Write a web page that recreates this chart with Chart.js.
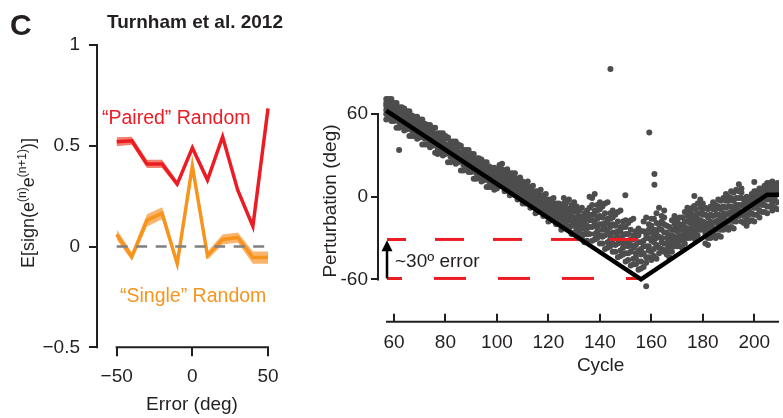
<!DOCTYPE html>
<html><head><meta charset="utf-8">
<script src="https://cdn.jsdelivr.net/npm/chart.js@4.4.1/dist/chart.umd.min.js"></script>
<style>
html,body{margin:0;padding:0;background:#fff;}
#wrap{position:relative;width:783px;height:418px;overflow:hidden;background:#fff;}
#c1{position:absolute;left:0;top:0;}
#c2{position:absolute;left:300px;top:0;}
</style></head><body>
<div id="wrap"><canvas id="c1" width="300" height="418"></canvas><canvas id="c2" width="483" height="418"></canvas></div>
<script>
// ---------- Left panel data ----------
const errorBins  = [-50, -40, -30, -20, -10, 0, 10, 20, 30, 40, 50];
const pairedMean = [0.52, 0.525, 0.41, 0.41, 0.31, 0.49, 0.33, 0.545, 0.28, 0.10, 0.685];
const pairedSem  = [0.022, 0.02, 0.02, 0.02, 0.015, 0.015, 0.015, 0.015, 0.015, 0.015, 0.015];
const singleMean = [0.06, -0.05, 0.13, 0.165, -0.085, 0.40, -0.045, 0.035, 0.045, -0.055, -0.055];
const singleSem  = [0.025, 0.02, 0.03, 0.03, 0.02, 0.02, 0.02, 0.025, 0.025, 0.03, 0.03];
const leftXTicks  = [-50, 0, 50];
const leftXLabels = ['\u221250', '0', '50'];
const leftYTicks  = [1, 0.5, 0, -0.5];
const leftYLabels = ['1', '0.5', '0', '\u22120.5'];

// ---------- Right panel data ----------
const schedCycles = [57, 156, 205, 209.6];
const schedValues = [62.5, -60, 1.5, 1.5];
const errBandCycles = [57.3, 155.7];
const errBandLevels = [-31, -59.3];
const rightXTicks = [60, 80, 100, 120, 140, 160, 180, 200];
const rightYTicks = [-60, 0, 60];
const rightYLabels = ['-60', '0', '60'];
// each row: [cycle, value, value, ...]
const scatterRows = [
[57,71,66,60,68,63,56],[58,63,71,66,57,68,61],[59,66,59,71,63,55,68],[60,62,66,58,55,68,60],[61,68,58,63,50,60,62],
[62,65,60,54,62,57,50,34],[63,57,65,60,51,62,55],[64,59,52,64,56,48,61],[65,56,60,52,49,62,54],[66,62,52,57,44,54,56],
[67,59,54,48,56,51,44],[68,50,58,53,44,55,48],[69,53,46,58,50,42,55],[70,50,54,46,43,56,48],[71,56,46,51,38,48,50],
[72,53,48,42,50,45,38],[73,44,52,47,38,49,42],[74,47,40,52,44,36,49],[75,44,48,40,37,50,42],[76,50,40,45,32,42,44],
[77,46,41,35,43,38,31],[78,38,46,41,32,43,36],[79,41,34,46,38,30,43],[80,38,42,34,31,44,36],[81,43,33,38,25,35,37],
[82,40,35,29,37,32,25],[83,32,40,35,26,37,30],[84,35,28,40,32,24,37],[85,32,36,28,25,38,30],[86,37,27,32,19,29,31],
[87,34,29,23,31,26,19],[88,26,34,29,20,31,24],[89,29,22,34,26,18,31],[90,25,29,21,18,31,23],[91,31,21,26,13,23,25],
[92,28,23,17,25,20,13],[93,20,28,23,14,25,18],[94,22,15,27,19,11,24],[95,19,23,15,12,25,17],[96,25,15,20,7,17,19],
[97,22,17,11,19,14,7],[98,13,21,16,7,18,11],[99,16,9,21,13,5,18],[100,13,17,9,6,19,11],
[101,11,17,23,14,20,8],[102,14,8,20,24,11,17],[103,16,10,4,19,13,7],[104,6,16,10,20,13,8],[105,17,10,6,13,1,8],
[106,5,11,17,8,14,2],[107,7,1,13,17,4,10],[108,10,4,-2,13,7,1],[109,0,10,4,14,7,2],[110,11,4,0,7,-5,2],
[111,-2,4,10,1,7,-5],[112,1,-5,7,11,-2,4],[113,4,-2,-8,7,1,-5],[114,-6,4,-2,8,1,-4],[115,4,-3,-7,0,-12,-5],
[116,-8,-2,4,-5,1,-11],[117,-5,-11,1,5,-8,-2],[118,-2,-8,-14,1,-5,-11],[119,-12,-2,-8,2,-5,-10],[120,-2,-9,-13,-6,-18,-11],
[121,-14,-8,-2,-11,-5,-17],[122,-11,-17,-5,-1,-14,-8],[123,-8,-14,-20,-5,-11,-17],[124,-19,-9,-15,-5,-12,-17],[125,-8,-15,-19,-12,-24,-17],
[126,-20,-13,-5,-17,-9,-1],[127,-16,-23,-11,-4,-19,-8],[128,-14,-22,-2,-17,-9,-24],[129,-21,-12,-17,-6,-27,-8],[130,-10,-21,-26,-15,-4,-17],
[131,-26,-19,-11,-23,-15,-7],[132,-22,-29,-17,-10,-25,-14],[133,-20,-28,-8,-23,-15,-30],[134,-27,-18,-23,-12,-33,-14],[135,-16,-27,-32,-21,-10,-23],
[136,-27,-17,-8,0,-22,-13],[137,-22,-32,-13,-6,-17,-1],[138,-27,-10,-19,2,-31,-13],[139,-16,-25,-6,-30,-10,-22],[140,-20,-4,-28,-14,-34,-9],
[141,-34,-24,-15,-7,-29,-20],[142,-28,-38,-19,-12,-23,-5],[143,-33,-16,-25,-4,-37,-19],[144,-22,-31,-12,-36,-16,-28],[145,-26,-10,-34,-20,-40,-15],
[146,-40,-30,-21,-13,-35,-26],[147,-34,-44,-25,-18,-29,-11],[148,-39,-22,-31,-10,-43,-25],[149,-28,-37,-18,-42,-22,-34],[150,-33,-17,-41,-27,-47,-22],
[151,-46,-36,-27,-19,-41,-32],[152,-40,-50,-31,-24,-35,-17],[153,-45,-28,-37,-16,-49,-31],[154,-35,-44,-25,-49,-29,-41],[155,-39,-23,-47,-33,-53,-28],
[156,-52,-42,-33,-25,-47,-38],[157,-41,-51,-32,-25,-36,-18],[158,-44,-27,-36,-15,-48,-30,-65],[159,-30,-39,-20,-44,-24,-36],[160,-32,-16,-40,-26,-46,-21],
[161,-43,-33,-24,-16,-38,-29],[162,-35,-45,-26,-19,-30,-12],[163,-37,-20,-29,-8,-41,-23],[164,-24,-33,-14,-38,-18,-30],[165,-26,-10,-34,-20,-40,-15],
[166,-42,-34,-26,-38,-21,-30],[167,-35,-44,-28,-22,-39,-31],[168,-28,-36,-17,-32,-24,-40],[169,-36,-24,-33,-20,-29,-14],[170,-21,-30,-36,-25,-17,-33],
[171,-36,-28,-20,-32,-15,-24],[172,-28,-37,-21,-15,-32,-24],[173,-22,-30,-11,-26,-18,-34],[174,-30,-18,-27,-14,-23,-8],[175,-15,-24,-30,-19,-11,-27],
[176,-29,-21,-13,-25,-8,-17],[177,-22,-31,-15,-9,-26,-18],[178,-16,-24,-5,-20,-12,-28],[179,-24,-12,-21,-8,-17,-2],[180,-9,-18,-24,-13,-5,-21],
[181,-27,-19,-34,-13,-23,-8],[182,-20,-30,-15,-24,-9,-35],[183,-13,-22,-7,-30,-18,-26],[184,-27,-14,-19,-9,-23,-4],[185,-13,-6,-24,-18,-30,-9],
[186,-21,-13,-28,-7,-17,-2],[187,-14,-24,-9,-18,-3,-29],[188,-7,-16,-1,-24,-12,-20],[189,-21,-8,-13,-3,-17,2],[190,-7,0,-18,-12,-24,-3],
[191,-15,-7,-22,-1,-11,4],[192,-8,-18,-3,-12,3,-23],[193,-1,-10,5,-18,-6,-14],[194,-14,-1,-6,4,-10,9],[195,-1,6,-12,-6,-18,3],
[196,-7,-14,-2,-19,-10,-5],[197,-11,-3,-16,-7,-21,0],[198,-1,-7,-13,-4,-18,-10],[199,-12,-1,-6,-17,2,-4],[200,-4,-13,4,-2,-8,-18],
[201,-1,-8,4,-13,-4,1],[202,-5,3,-10,-1,-15,6],[203,6,0,-6,3,-11,-3],[204,-6,5,0,-11,8,2],[205,2,-7,10,4,-2,-12],
[206,5,-2,10,-7,2,7],[207,0,8,-5,4,-10,11],[208,9,3,-3,6,-8,0],[209,-4,7,2,-9,10,4]
];
const outlierCycles = [144.1, 159.2, 161.2, 161.2, 149.9, 176.7, 176.6, 200];
const outlierValues = [92.7, 46.7, 16.5, 8.7, 1.0, 0.5, -6.8, 10.7];

// ---------- styling ----------
const FONT = "'Liberation Sans', Arial, Helvetica, sans-serif";
const INK = '#231f20';
const RED = '#ec1c24', RED_BAND = '#f3806f';
const ORANGE = '#f7941d', ORANGE_BAND = '#fbb46c';
const GREY_DOT = '#4d4d4d';

const pts = (xs, ys) => xs.map((x, i) => ({x: x, y: ys[i]}));
const scatterPts = [];
scatterRows.forEach(r => { for (let k = 1; k < r.length; k++) scatterPts.push({x: r[0], y: r[k]}); });
pts(outlierCycles, outlierValues).forEach(p => scatterPts.push(p));

const fixTicks = (vals) => (s) => { s.ticks = vals.map(v => ({value: v})); };
const lab = (vals, labels) => (v) => { const i = vals.indexOf(v); return i >= 0 ? labels[i] : ''; };

// ---------- Left chart ----------
const leftDeco = {
  id: 'leftDeco',
  afterDraw(chart) {
    const {ctx, chartArea: a, scales: {x, y}} = chart;
    ctx.save();
    ctx.strokeStyle = INK; ctx.lineWidth = 2; ctx.lineCap = 'butt';
    ctx.beginPath();
    ctx.moveTo(a.left, y.getPixelForValue(1) - 1); ctx.lineTo(a.left, y.getPixelForValue(-0.5) + 1);
    ctx.moveTo(x.getPixelForValue(-50) - 1, a.bottom); ctx.lineTo(x.getPixelForValue(50) + 1, a.bottom);
    ctx.stroke();
    ctx.textBaseline = 'alphabetic';
    ctx.textAlign = 'left';
    ctx.fillStyle = RED; ctx.font = '19.5px ' + FONT;
    ctx.fillText('\u201cPaired\u201d Random', 102, 124);
    ctx.fillStyle = ORANGE;
    ctx.fillText('\u201cSingle\u201d Random', 120, 302);
    ctx.fillStyle = INK; ctx.font = '19px ' + FONT; ctx.textAlign = 'center';
    ctx.fillText('Error (deg)', 192, 410);
    ctx.textAlign = 'left';
    ctx.font = 'bold 30px ' + FONT; ctx.fillText('C', 10, 35);
    ctx.font = 'bold 19px ' + FONT; ctx.fillText('Turnham et al. 2012', 107, 28);
    // y title with superscripts
    const segs = [['E[sign(e', 0], ['(n)', 1], ['e', 0], ['(n+1)', 1], [')]', 0]];
    const mainF = '18px ' + FONT, supF = '12px ' + FONT;
    let total = 0;
    segs.forEach(s => { ctx.font = s[1] ? supF : mainF; total += ctx.measureText(s[0]).width; });
    ctx.translate(34, 203); ctx.rotate(-Math.PI / 2);
    let cx = -total / 2;
    segs.forEach(s => {
      ctx.font = s[1] ? supF : mainF;
      ctx.fillText(s[0], cx, s[1] ? -8 : 0);
      cx += ctx.measureText(s[0]).width;
    });
    ctx.restore();
  }
};

const lineDs = (data, color, width) => ({data, borderColor: color, borderWidth: width, pointRadius: 0, fill: false, tension: 0, borderJoinStyle: 'miter'});
const edgeDs = (data, fillTo, color) => ({data, borderColor: 'transparent', borderWidth: 0, pointRadius: 0, tension: 0, fill: fillTo, backgroundColor: color});

new Chart(document.getElementById('c1'), {
  type: 'line',
  data: {datasets: [
    Object.assign(lineDs([{x: -50, y: 0}, {x: 50, y: 0}], '#808080', 2.5), {borderDash: [11, 8.5]}),
    lineDs(pts(errorBins, pairedMean), RED, 3.5),
    lineDs(pts(errorBins, singleMean), ORANGE, 3.5),
    edgeDs(pts(errorBins, pairedMean.map((v, i) => v + pairedSem[i])), false, RED_BAND),
    edgeDs(pts(errorBins, pairedMean.map((v, i) => v - pairedSem[i])), 3, RED_BAND),
    edgeDs(pts(errorBins, singleMean.map((v, i) => v + singleSem[i])), false, ORANGE_BAND),
    edgeDs(pts(errorBins, singleMean.map((v, i) => v - singleSem[i])), 5, ORANGE_BAND)
  ]},
  options: {
    responsive: false, animation: false, devicePixelRatio: 1,
    layout: {padding: {left: 0, top: 45, right: 22, bottom: 0}},
    plugins: {legend: {display: false}, tooltip: {enabled: false}},
    scales: {
      x: {type: 'linear', min: -63, max: 56.6,
        border: {display: false},
        grid: {drawOnChartArea: false, drawTicks: true, tickLength: 9, color: INK, lineWidth: 2},
        ticks: {font: {family: FONT, size: 19}, color: INK, padding: 9, autoSkip: false, maxRotation: 0, callback: lab(leftXTicks, leftXLabels)},
        afterBuildTicks: fixTicks(leftXTicks),
        afterFit: s => { s.height = 70.7; }},
      y: {type: 'linear', min: -0.5, max: 1,
        border: {display: false},
        grid: {drawOnChartArea: false, drawTicks: true, tickLength: 8, color: INK, lineWidth: 2},
        ticks: {font: {family: FONT, size: 19}, color: INK, padding: 9, autoSkip: false, callback: lab(leftYTicks, leftYLabels)},
        afterBuildTicks: fixTicks(leftYTicks),
        afterFit: s => { s.width = 97; }}
    }
  },
  plugins: [leftDeco]
});

// ---------- Right chart ----------
const rightDeco = {
  id: 'rightDeco',
  afterDraw(chart) {
    const {ctx, chartArea: a, scales: {x, y}} = chart;
    ctx.save();
    ctx.strokeStyle = INK; ctx.lineWidth = 2; ctx.lineCap = 'butt';
    ctx.beginPath();
    ctx.moveTo(a.left, y.getPixelForValue(60) - 1); ctx.lineTo(a.left, y.getPixelForValue(-60) + 1);
    ctx.moveTo(x.getPixelForValue(56.9), a.bottom); ctx.lineTo(a.right, a.bottom);
    rightXTicks.forEach(v => { const px = Math.round(x.getPixelForValue(v)); ctx.moveTo(px, a.bottom); ctx.lineTo(px, a.bottom - 8); });
    ctx.stroke();
    // arrow
    const ax = x.getPixelForValue(57.3), ay0 = y.getPixelForValue(-59.3), ay1 = y.getPixelForValue(-31.5);
    ctx.fillStyle = '#000'; ctx.strokeStyle = '#000'; ctx.lineWidth = 2.5;
    ctx.beginPath(); ctx.moveTo(ax, ay0); ctx.lineTo(ax, ay1 + 9); ctx.stroke();
    ctx.beginPath(); ctx.moveTo(ax, ay1); ctx.lineTo(ax - 5.5, ay1 + 11); ctx.lineTo(ax + 5.5, ay1 + 11); ctx.closePath(); ctx.fill();
    // texts
    ctx.fillStyle = INK; ctx.font = '19px ' + FONT; ctx.textBaseline = 'alphabetic';
    ctx.textAlign = 'left';
    ctx.fillText('~30\u00ba error', x.getPixelForValue(60.4), 267);
    ctx.textAlign = 'center';
    ctx.fillText('Cycle', x.getPixelForValue(140.3), 371);
    ctx.translate(30.7, 201); ctx.rotate(-Math.PI / 2);
    ctx.textBaseline = 'middle';
    ctx.fillText('Perturbation (deg)', 0, 0);
    ctx.restore();
  }
};

new Chart(document.getElementById('c2'), {
  type: 'line',
  data: {datasets: [
    {data: pts(schedCycles, schedValues), borderColor: '#000', borderWidth: 4.5, pointRadius: 0, fill: false, tension: 0, borderJoinStyle: 'miter'},
    {data: pts(errBandCycles, [errBandLevels[0], errBandLevels[0]]), borderColor: RED, borderWidth: 3, pointRadius: 0, fill: false, borderDash: [29, 29], borderDashOffset: 10, borderCapStyle: 'butt'},
    {data: pts(errBandCycles, [errBandLevels[1], errBandLevels[1]]), borderColor: RED, borderWidth: 3, pointRadius: 0, fill: false, borderDash: [32, 32], borderDashOffset: 17, borderCapStyle: 'butt'},
    {data: scatterPts, showLine: false, pointRadius: 3, pointBackgroundColor: GREY_DOT, pointBorderWidth: 0, pointBorderColor: GREY_DOT, fill: false}
  ]},
  options: {
    responsive: false, animation: false, devicePixelRatio: 1,
    layout: {padding: {left: 0, top: 50, right: 3, bottom: 0}},
    plugins: {legend: {display: false}, tooltip: {enabled: false}},
    scales: {
      x: {type: 'linear', min: 53.8, max: 209.6,
        border: {display: false},
        grid: {display: false, drawTicks: false},
        ticks: {font: {family: FONT, size: 19}, color: INK, padding: 10, autoSkip: false, maxRotation: 0, callback: v => String(v)},
        afterBuildTicks: fixTicks(rightXTicks),
        afterFit: s => { s.height = 96.3; }},
      y: {type: 'linear', min: -90.7, max: 106.5,
        border: {display: false},
        grid: {drawOnChartArea: false, drawTicks: true, tickLength: 7, color: INK, lineWidth: 2},
        ticks: {font: {family: FONT, size: 19}, color: INK, padding: 3, autoSkip: false, callback: lab(rightYTicks, rightYLabels)},
        afterBuildTicks: fixTicks(rightYTicks),
        afterFit: s => { s.width = 78; }}
    }
  },
  plugins: [rightDeco]
});
</script>
</body></html>
